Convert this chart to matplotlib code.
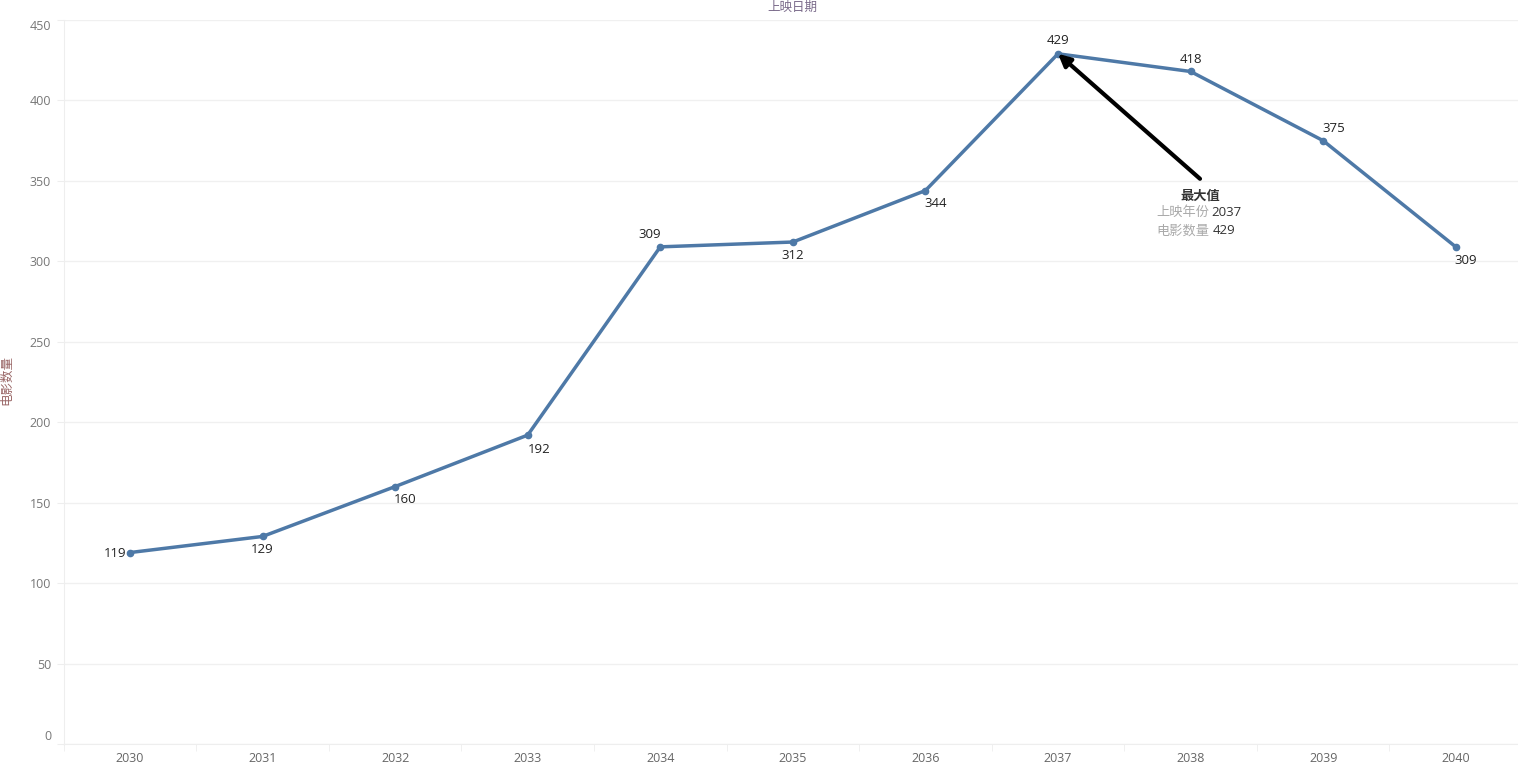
import matplotlib
matplotlib.use("Agg")
import matplotlib.pyplot as plt
import matplotlib.transforms as mtransforms
import numpy as np

plt.rcParams['font.family'] = ['Noto Sans CJK SC', 'DejaVu Sans']

years = ['2030', '2031', '2032', '2033', '2034', '2035', '2036', '2037', '2038', '2039', '2040']
counts = [119, 129, 160, 192, 309, 312, 344, 429, 418, 375, 309]
# pixel offsets of each value label relative to its point
label_offsets = [(-4, -1), (0, -13), (10, -13), (11, -14), (-11, 12), (0, -13),
                 (10, -13), (0, 13), (0, 12), (11, 12), (10, -14)]
label_ha = ['right', 'center', 'center', 'center', 'center', 'center',
            'center', 'center', 'center', 'center', 'center']

fig = plt.figure(figsize=(15.18, 7.71), dpi=100)
ax = fig.add_axes([63.7/1518, 27/771, (1522-63.7)/1518, (744-20)/771])

x = np.arange(len(years))
ax.plot(x, counts, color='#4e79a7', lw=2.5, marker='o', ms=4.5, zorder=3, clip_on=False)

for i, v in enumerate(counts):
    ax.annotate(str(v), (x[i], v), xytext=label_offsets[i], textcoords='offset pixels',
                ha=label_ha[i], va='center', fontsize=9.5, color='#222222',
                family=['Open Sans', 'DejaVu Sans'])

# max annotation
imax = int(np.argmax(counts))
ax.annotate('', xy=(x[imax], counts[imax]), xytext=(142, -125), textcoords='offset pixels',
            arrowprops=dict(arrowstyle='-|>', color='black', lw=3, mutation_scale=18,
                            shrinkA=0, shrinkB=0))
ax.annotate('最大值', (x[imax], counts[imax]), xytext=(142, -142), textcoords='offset pixels',
            ha='center', va='center', fontsize=9.5, fontweight='bold', color='#333333')
ax.annotate('上映年份', (x[imax], counts[imax]), xytext=(151, -159), textcoords='offset pixels',
            ha='right', va='center', fontsize=9.5, color='#aaaaaa')
ax.annotate(years[imax], (x[imax], counts[imax]), xytext=(153, -159), textcoords='offset pixels',
            ha='left', va='center', fontsize=9.5, color='#333333', family=['Open Sans', 'DejaVu Sans'])
ax.annotate('电影数量', (x[imax], counts[imax]), xytext=(151, -177), textcoords='offset pixels',
            ha='right', va='center', fontsize=9.5, color='#aaaaaa')
ax.annotate(str(counts[imax]), (x[imax], counts[imax]), xytext=(155, -177), textcoords='offset pixels',
            ha='left', va='center', fontsize=9.5, color='#333333', family=['Open Sans', 'DejaVu Sans'])

ax.set_xlim(-0.5, len(years) - 0.5)
ax.set_ylim(0, 450)
ax.set_yticks(np.arange(0, 451, 50))
ax.set_xticks(x)
ax.set_xticklabels(years)
ax.set_xticks(np.arange(-0.5, len(years), 1), minor=True)

ax.grid(axis='y', color='#f0f0f0', lw=1)
ax.set_axisbelow(True)
for s in ['top', 'right']:
    ax.spines[s].set_visible(False)
ax.spines['left'].set_color('#eeeeee')
ax.spines['bottom'].set_color('#eeeeee')

ax.tick_params(axis='x', which='major', length=0, pad=6, labelsize=9, labelcolor='#666666')
ax.tick_params(axis='x', which='minor', length=5, color='#eeeeee')
ax.tick_params(axis='y', length=5, color='#eeeeee', pad=4, labelsize=9, labelcolor='#777777')
for t in ax.get_xticklabels() + ax.get_yticklabels():
    t.set_family(['Open Sans', 'DejaVu Sans'])

# edge labels are pushed inside the axis like in the original
ylabels = ax.get_yticklabels()
ylabels[0].set_transform(ylabels[0].get_transform() + mtransforms.ScaledTranslation(0, 9/100, fig.dpi_scale_trans))
ylabels[-1].set_transform(ylabels[-1].get_transform() + mtransforms.ScaledTranslation(0, -5/100, fig.dpi_scale_trans))

fig.text(792/1518, 1 - 7/771, '上映日期', ha='center', va='center', fontsize=9, color='#7a6a8a')
fig.text(7/1518, 1 - 380/771, '电影数量', ha='center', va='center', rotation=90,
         fontsize=9, color='#996666')

fig.savefig('out.png', dpi=100)
